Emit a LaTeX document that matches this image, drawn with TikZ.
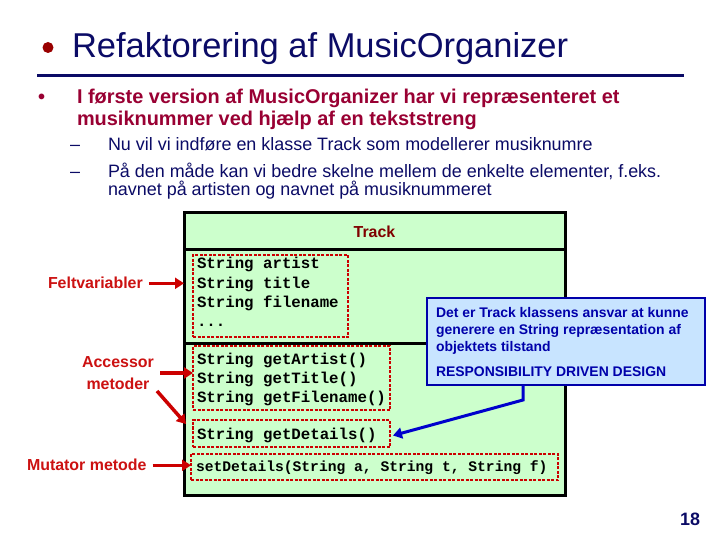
\documentclass[tikz,border=0pt]{standalone}
\usepackage{fontspec}
\setmainfont{Liberation Sans}
\setmonofont{Liberation Mono}
\usetikzlibrary{arrows.meta}
\definecolor{navy}{HTML}{0B0B66}
\definecolor{maroon}{HTML}{990033}
\definecolor{labelred}{HTML}{CC1111}
\definecolor{trackred}{HTML}{800000}
\definecolor{classgreen}{HTML}{CCFFCC}
\definecolor{boxred}{HTML}{CC0000}
\definecolor{calloutfill}{HTML}{C8E4FF}
\definecolor{calloutblue}{HTML}{0000AA}
\definecolor{arrowblue}{HTML}{0000CC}
\begin{document}
\begin{tikzpicture}[x=1bp,y=-1bp,
  every node/.style={inner sep=0pt,outer sep=0pt},
  titletext/.style={font=\fontsize{34.6}{40}\selectfont, text=navy, anchor=base west},
  bullettext/.style={font=\fontsize{20}{23}\selectfont\bfseries, text=maroon, anchor=base west},
  subtext/.style={font=\fontsize{18}{20}\selectfont, text=navy, anchor=base west},
  codetext/.style={font=\fontsize{15.8}{19}\selectfont\ttfamily\bfseries, anchor=base west},
  labeltext/.style={font=\fontsize{16}{19}\selectfont\bfseries, text=labelred},
  callouttext/.style={font=\fontsize{14}{17}\selectfont\bfseries, text=calloutblue, anchor=base west},
  dashbox/.style={draw=boxred, line width=2.5bp, dash pattern=on 3bp off 1.5bp, anchor=north west},
  redarrow/.style={draw=boxred, line width=3.5bp, -{Triangle[length=9bp,width=11bp]}},
  bluearrow/.style={draw=arrowblue, line width=3bp, -{Triangle[length=9bp,width=11bp]}}
]
\useasboundingbox (0,0) rectangle (720,540);
\fill[white] (0,0) rectangle (720,540);

% title
\fill[red!60!black] (48,47.5) circle (5.5bp);
\node[titletext] (title) at (72,58) {Refaktorering af MusicOrganizer};
\draw[navy, line width=3bp] (37,76) -- (684,76);

% bullet
\node[bullettext] (b0) at (38,104) {•};
\node[bullettext] (b1) at (77,104) {I første version af MusicOrganizer har vi repræsenteret et};
\node[bullettext] (b2) at (77,126) {musiknummer ved hjælp af en tekststreng};
\node[subtext] (d1) at (70,151) {–};
\node[subtext] (s1) at (108,151) {Nu vil vi indføre en klasse Track som modellerer musiknumre};
\node[subtext] (d2) at (70,178) {–};
\node[subtext] (s2) at (108,178) {På den måde kan vi bedre skelne mellem de enkelte elementer, f.eks.};
\node[subtext] (s3) at (108,196) {navnet på artisten og navnet på musiknummeret};

% class box
\node[draw=black, line width=3bp, fill=classgreen, minimum width=381bp, minimum height=282bp, anchor=north west] (track) at (184,213) {};
\draw[black, line width=3bp] (184,250) -- (565,250);
\draw[black, line width=3bp] (184,343) -- (565,343);
\node[font=\fontsize{16}{19}\selectfont\bfseries, text=trackred] (trackname) at (374.5,231.5) {Track};

% fields
\node[dashbox, minimum width=155bp, minimum height=82bp] (fields) at (193,255) {};
\node[codetext] (f1) at (197,269) {String artist};
\node[codetext] (f2) at (197,288) {String title};
\node[codetext] (f3) at (197,307) {String filename};
\node[codetext] (f4) at (197,326) {...};

% accessors
\node[dashbox, minimum width=197bp, minimum height=64bp] (acc) at (193,346) {};
\node[codetext] (a1) at (197,364) {String getArtist()};
\node[codetext] (a2) at (197,383) {String getTitle()};
\node[codetext] (a3) at (197,402) {String getFilename()};

\node[dashbox, minimum width=197bp, minimum height=27bp] (getdet) at (193,420) {};
\node[codetext] (g1) at (197,439) {String getDetails()};

\node[dashbox, minimum width=367bp, minimum height=26bp] (setdet) at (191,454) {};
\node[codetext, font=\fontsize{14.7}{18}\selectfont\ttfamily\bfseries] (m1) at (196,471) {setDetails(String a, String t, String f)};

% callout
\node[draw=calloutblue, line width=2.5bp, fill=calloutfill, minimum width=278bp, minimum height=87bp, anchor=north west] (callout) at (427,298) {};
\node[callouttext] (c1) at (436,317) {Det er Track klassens ansvar at kunne};
\node[callouttext] (c2) at (436,334) {generere en String repræsentation af};
\node[callouttext] (c3) at (436,351) {objektets tilstand};
\node[callouttext] (c4) at (436,376) {RESPONSIBILITY DRIVEN DESIGN};
\draw[bluearrow] ([xshift=-43bp]callout.south) -- ++(0,15) -- ([xshift=3bp,yshift=-2bp]getdet.east);

% labels
\node[labeltext, anchor=base west] (felt) at (48,288) {Feltvariabler};
\draw[redarrow] ([xshift=6bp,yshift=-1bp]felt.east) -- ([yshift=-1bp]felt.east -| track.west);

\node[labeltext, align=center] (accl) at (118,373) {Accessor\\[2.5bp]metoder};
\coordinate (accs) at (160,373);
\draw[redarrow] (accs) -- (accs -| acc.west);
\coordinate (acc2s) at (157,391);
\coordinate (acc2e) at (186,424);
\draw[redarrow] (acc2s) -- (acc2e);

\node[labeltext, anchor=base west] (mut) at (27,470) {Mutator metode};
\draw[redarrow] ([xshift=6bp,yshift=-1bp]mut.east) -- ([yshift=-1bp]mut.east -| setdet.west);

% page number
\node[font=\fontsize{18}{20}\selectfont\bfseries, text=navy, anchor=base east] (page) at (700,525) {18};
\end{tikzpicture}
\end{document}
